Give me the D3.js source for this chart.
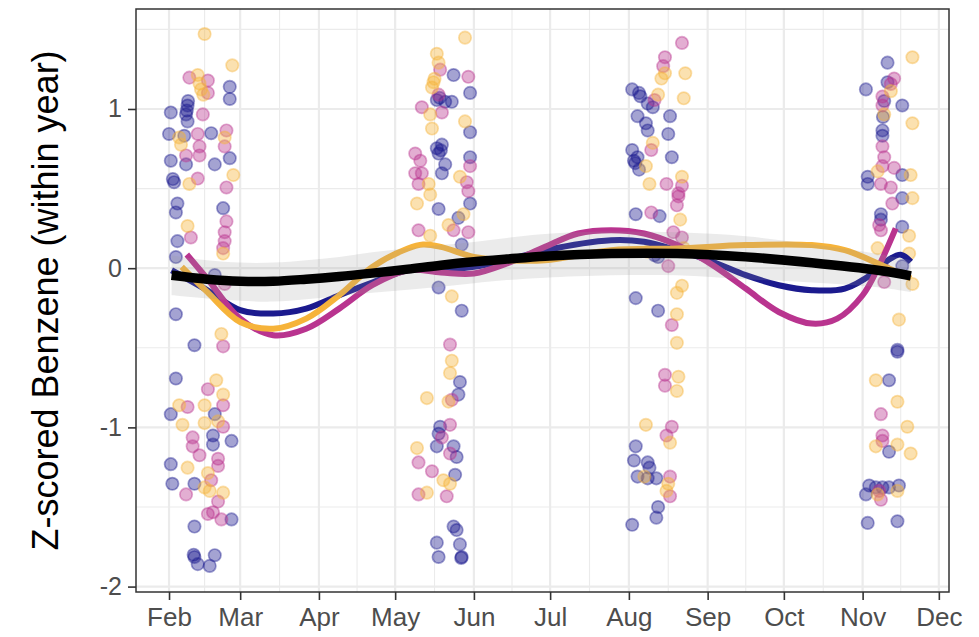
<!DOCTYPE html>
<html>
<head>
<meta charset="utf-8">
<script src="https://cdn.jsdelivr.net/npm/d3@7"></script>
<style>
  html, body { margin: 0; padding: 0; background: #ffffff; }
  svg { display: block; font-family: "Liberation Sans", Arial, sans-serif; }
</style>
</head>
<body>
<svg id="chart" width="979" height="637"></svg>
<script>
// ---------- DATA (day of year, z-scored value) ----------
const seriesNames = ["Year A", "Year B", "Year C"];
const seriesColors = ["#1b1a8e", "#b9348f", "#f6b33a"];

const pointsBlue = [
  [55.9,1.139],[55.9,1.063],[39.3,1.022],[39.5,1.05],[39.0,0.99],[32.7,0.978],[38.7,0.966],[39.3,0.922],[32.0,0.843],[38.0,0.832],[48.6,0.848],[32.7,0.675],[38.7,0.652],[50.0,0.652],[55.9,0.691],[34.0,0.540],[33.5,0.56],[35.3,0.406],[34.7,0.350],[53.3,0.377],[35.3,0.170],[34.7,0.070],[50.0,-0.043],[34.7,-0.289],[42.0,-0.484],[34.7,-0.693],[32.7,-0.917],[50.0,-0.917],[49.3,-1.051],[56.6,-1.085],[49.3,-1.108],[32.7,-1.231],[33.3,-1.354],[42.0,-1.354],[56.6,-1.578],[42.0,-1.623],[42.0,-1.814],[41.7,-1.80],[50.0,-1.803],[48.0,-1.870],[43.3,-1.859],
  [144.0,1.213],[150.5,1.101],[137.4,1.056],[138.5,1.07],[140.7,1.045],[143.3,1.045],[150.5,0.854],[137.4,0.753],[139.4,0.776],[138.1,0.720],[139,0.74],[140.7,0.652],[139.4,0.596],[150.5,0.697],[150.5,0.406],[138.1,0.372],[145.9,0.316],[147.2,0.148],[138.1,-0.121],[147.2,-0.267],[146.5,-0.715],[145.9,-0.794],[138.7,-0.996],[138.1,-1.040],[137.4,-1.119],[144.0,-1.119],[145.2,-1.186],[144.6,-1.298],[144.0,-1.623],[145.2,-1.645],[137.4,-1.724],[146.5,-1.735],[138.1,-1.814],[147.2,-1.814],[147.0,-1.82],
  [214.3,1.123],[217.0,1.101],[217.5,1.08],[220.4,1.034],[216.4,0.955],[222.4,1.011],[229.2,0.955],[219.7,0.910],[220.4,0.865],[228.5,0.843],[214.3,0.742],[216.4,0.697],[215.0,0.675],[215.5,0.66],[229.9,0.697],[217.0,0.619],[215.7,0.339],[225.1,0.327],[223.1,0.081],[224.5,0.070],[215.7,-0.188],[224.5,-0.267],[215.7,-1.119],[215.0,-1.208],[220.4,-1.220],[221.1,-1.253],[216.4,-1.309],[220.4,-1.320],[223.8,-1.320],[224.5,-1.500],[223.8,-1.567],[214.3,-1.612],
  [314.8,1.291],[314.8,1.168],[306.3,1.123],[320.6,1.022],[313.5,1.05],[313,0.95],[312.8,0.865],[312.8,0.832],[307.0,0.574],[307.0,0.529],[320.6,0.585],[320.6,0.440],[312.2,0.339],[312.2,0.305],[320.6,0.260],[320.6,0.013],[318.7,-0.513],[318.7,-0.525],[315.4,-0.704],[315.4,-1.153],[307.6,-1.365],[310.2,-1.377],[312.8,-1.377],[315.4,-1.377],[319.3,-1.365],[306.3,-1.421],[307.0,-1.60],[318.7,-1.59]
];

const pointsMagenta = [
  [40.0,1.197],[47.3,1.179],[47.3,1.101],[45.3,0.966],[43.3,0.843],[54.6,0.865],[53.9,0.765],[44.0,0.765],[38.7,0.708],[44.0,0.708],[43.3,0.563],[54.6,0.507],[54.6,0.294],[40.6,0.193],[53.9,0.226],[53.9,0.170],[53.3,0.126],[53.9,-0.099],[53.3,-0.491],[47.3,-0.760],[39.3,-0.872],[53.3,-0.861],[53.3,-0.996],[41.3,-1.063],[41.3,-1.119],[44.0,-1.175],[51.3,-1.197],[51.3,-1.242],[48.6,-1.332],[38.7,-1.421],[51.3,-1.466],[49.3,-1.533],[47.3,-1.544],[52.6,-1.578],
  [138.7,1.247],[149.8,1.202],[138.1,1.090],[131.5,1.011],[139.4,0.978],[128.9,0.720],[150.5,0.641],[130.9,0.675],[128.9,0.596],[131.5,0.596],[149.2,0.540],[130.2,0.529],[149.8,0.484],[130.2,0.238],[144.0,0.238],[149.8,0.226],[142.6,-0.480],[143.3,-0.827],[142.6,-0.984],[139.4,-1.063],[142.6,-1.164],[130.2,-1.220],[135.5,-1.276],[130.2,-1.421],[141.3,-1.433],
  [233.9,1.415],[227.2,1.325],[226.5,1.269],[223.1,1.056],[221.8,0.742],[227.8,0.529],[233.9,0.518],[232.5,0.451],[232.5,0.47],[231.9,0.395],[221.8,0.350],[230.5,0.226],[233.9,0.193],[228.5,0.013],[229.9,-0.357],[227.2,-0.670],[227.2,-0.738],[229.9,-0.996],[227.8,-1.051],[229.2,-1.309],[229.2,-1.433],
  [317.4,1.191],[316.1,1.157],[312.8,1.078],[312.8,1.022],[312.8,0.765],[313.5,0.697],[312.8,0.641],[317.4,0.630],[312.2,0.529],[316.1,0.507],[316.7,0.406],[311.5,0.271],[312.2,0.238],[313.5,-0.009],[313.5,-0.087],[312.2,-0.917],[312.8,-1.051],[312.8,-1.085],[311.5,-1.399],[312.2,-1.455]
];

const pointsOrange = [
  [46.0,1.471],[56.9,1.274],[43.3,1.213],[44,1.16],[44.6,1.123],[45.5,1.09],[36.0,0.821],[53.9,0.821],[36.7,0.776],[57.3,0.585],[40.0,0.529],[39.3,0.265],[53.3,0.092],[52.6,-0.413],[50.6,-0.704],[53.3,-0.794],[36.0,-0.861],[46.0,-0.861],[37.3,-0.984],[46.0,-0.973],[51.3,-0.962],[39.3,-1.253],[47.3,-1.287],[48.0,-1.399],[53.3,-1.410],[46.0,-1.377],
  [148.5,1.448],[137.4,1.347],[138.1,1.291],[136.1,1.168],[136.5,1.19],[135.5,1.135],[134.8,0.966],[148.5,0.922],[135.5,0.877],[146.5,0.574],[134.2,0.529],[134.8,0.462],[129.6,0.406],[147.9,0.339],[142.0,0.271],[134.8,0.204],[143.3,-0.177],[143.3,-0.581],[142.6,-0.659],[133.5,-0.816],[142.0,-0.838],[129.6,-1.130],[140.0,-1.332],[142.6,-1.354],[133.5,-1.410],
  [227.2,1.224],[235.2,1.224],[225.8,1.191],[224.5,1.090],[234.6,1.067],[222.4,0.787],[219.7,0.641],[233.9,0.574],[221.1,0.529],[233.2,0.305],[234.6,0.126],[220.4,0.103],[233.9,-0.110],[231.9,-0.155],[231.9,-0.289],[231.9,-0.469],[232.5,-0.682],[231.9,-0.771],[219.7,-0.984],[229.2,-1.096],[219.1,-1.309],[228.5,-1.354],[227.8,-1.399],
  [324.6,1.325],[316.1,1.112],[313.5,0.966],[324.6,0.910],[310.9,0.608],[323.9,0.585],[324.6,0.440],[323.3,0.204],[310.9,0.126],[323.3,0.092],[324.6,-0.099],[319.3,-0.323],[310.2,-0.704],[318.7,-0.839],[322.6,-0.996],[310.2,-1.119],[318.7,-1.108],[323.9,-1.164],[310.9,-1.421],[318.7,-1.399]
];

// smoothed trends
const smoothBlueDays    = [33,47,60,73,86,99,112,126,139,152,165,180,206,219,232,246,259,272,285,298,309,315,320,324];
const smoothBlueVals    = [-0.013,-0.138,-0.264,-0.285,-0.254,-0.17,-0.09,-0.013,-0.013,0.008,0.05,0.113,0.176,0.166,0.113,0.04,-0.044,-0.107,-0.138,-0.128,-0.033,0.05,0.085,0.04];
const smoothMagentaDays = [39,47,60,73,86,99,112,126,139,152,165,180,193,206,219,232,246,259,272,285,295,305,311,318];
const smoothMagentaVals = [0.086,-0.065,-0.317,-0.421,-0.38,-0.254,-0.107,-0.013,-0.027,-0.033,0.03,0.134,0.218,0.239,0.218,0.145,0.019,-0.128,-0.275,-0.348,-0.317,-0.17,0,0.25];
const smoothOrangeDays  = [37,47,60,73,86,99,112,126,132,139,152,165,180,206,232,259,285,298,311,324];
const smoothOrangeVals  = [0.008,-0.149,-0.338,-0.38,-0.317,-0.17,0.008,0.124,0.149,0.134,0.071,0.05,0.05,0.113,0.124,0.145,0.145,0.113,0.03,-0.065];

const overallDays  = [33,47,60,73,86,99,112,126,139,152,165,180,206,232,259,285,311,324];
const overallVals  = [-0.044,-0.069,-0.082,-0.082,-0.069,-0.052,-0.031,-0.006,0.019,0.040,0.057,0.075,0.092,0.092,0.071,0.034,-0.013,-0.048];
const overallUpper = [0.08,0.05,0.035,0.035,0.05,0.07,0.10,0.125,0.145,0.165,0.19,0.215,0.23,0.225,0.2,0.15,0.09,0.05];
const overallLower = [-0.17,-0.19,-0.205,-0.21,-0.195,-0.175,-0.155,-0.135,-0.117,-0.095,-0.075,-0.06,-0.045,-0.045,-0.07,-0.09,-0.12,-0.15];

const yTickValues = [-2, -1, 0, 1];
const yMinorValues = [-1.5, -0.5, 0.5, 1.5];
const xDomainDays = [19, 339];
const yDomain = [-2.034, 1.628];
const yTitle = "Z-scored Benzene (within year)";

// ---------- HELPERS ----------
const dayToDate = d => new Date(Date.UTC(2021, 0, 1) + (d - 1) * 864e5);

// ---------- LAYOUT ----------
const panel = { left: 136, right: 949, top: 9, bottom: 592 };
const svg = d3.select("#chart");
svg.append("rect").attr("width", 979).attr("height", 637).attr("fill", "#fff");

const x = d3.scaleUtc().domain(xDomainDays.map(dayToDate)).range([panel.left, panel.right]);
const y = d3.scaleLinear().domain(yDomain).range([panel.bottom, panel.top]);

const monthTicks = d3.utcMonth.range(dayToDate(xDomainDays[0]), dayToDate(xDomainDays[1]));
const xMinor = [];
for (let i = 0; i < monthTicks.length - 1; i++) {
  xMinor.push(new Date((monthTicks[i].getTime() + monthTicks[i + 1].getTime()) / 2));
}

// grid
const grid = svg.append("g");
grid.selectAll(".vminor").data(xMinor).join("line")
  .attr("x1", d => x(d)).attr("x2", d => x(d))
  .attr("y1", panel.top).attr("y2", panel.bottom)
  .attr("stroke", "#ebebeb").attr("stroke-width", 1.1);
grid.selectAll(".hminor").data(yMinorValues).join("line")
  .attr("x1", panel.left).attr("x2", panel.right)
  .attr("y1", d => y(d)).attr("y2", d => y(d))
  .attr("stroke", "#ebebeb").attr("stroke-width", 1.1);
grid.selectAll(".vmajor").data(monthTicks).join("line")
  .attr("x1", d => x(d)).attr("x2", d => x(d))
  .attr("y1", panel.top).attr("y2", panel.bottom)
  .attr("stroke", "#ebebeb").attr("stroke-width", 2.2);
grid.selectAll(".hmajor").data(yTickValues).join("line")
  .attr("x1", panel.left).attr("x2", panel.right)
  .attr("y1", d => y(d)).attr("y2", d => y(d))
  .attr("stroke", "#ebebeb").attr("stroke-width", 2.2);

// clip
svg.append("clipPath").attr("id", "clip").append("rect")
  .attr("x", panel.left).attr("y", panel.top)
  .attr("width", panel.right - panel.left).attr("height", panel.bottom - panel.top);
const plot = svg.append("g").attr("clip-path", "url(#clip)");

// points
const pointSets = [pointsBlue, pointsMagenta, pointsOrange];
pointSets.forEach((pts, i) => {
  plot.append("g").selectAll("circle").data(pts).join("circle")
    .attr("cx", d => x(dayToDate(d[0])))
    .attr("cy", d => y(d[1]))
    .attr("r", 6.2)
    .attr("fill", seriesColors[i]).attr("fill-opacity", 0.4)
    .attr("stroke", seriesColors[i]).attr("stroke-opacity", 0.42)
    .attr("stroke-width", 1.7);
});

// smooth lines per series
const line = d3.line()
  .x(d => x(dayToDate(d[0]))).y(d => y(d[1]))
  .curve(d3.curveCatmullRom.alpha(0.5));
const smoothSets = [
  d3.zip(smoothBlueDays, smoothBlueVals),
  d3.zip(smoothMagentaDays, smoothMagentaVals),
  d3.zip(smoothOrangeDays, smoothOrangeVals)
];
smoothSets.forEach((pts, i) => {
  plot.append("path").datum(pts)
    .attr("d", line)
    .attr("fill", "none")
    .attr("stroke", seriesColors[i])
    .attr("stroke-width", 6)
    .attr("stroke-linecap", "butt")
    .attr("stroke-linejoin", "round");
});

// overall ribbon + line
const ribbonData = overallDays.map((d, i) => [d, overallLower[i], overallUpper[i]]);
const area = d3.area()
  .x(d => x(dayToDate(d[0]))).y0(d => y(d[1])).y1(d => y(d[2]))
  .curve(d3.curveCatmullRom.alpha(0.5));
plot.append("path").datum(ribbonData)
  .attr("d", area)
  .attr("fill", "#999999").attr("fill-opacity", 0.2);
plot.append("path").datum(d3.zip(overallDays, overallVals))
  .attr("d", line)
  .attr("fill", "none").attr("stroke", "#000").attr("stroke-width", 9.5)
  .attr("stroke-linecap", "butt");

// panel border
svg.append("rect")
  .attr("x", panel.left).attr("y", panel.top)
  .attr("width", panel.right - panel.left).attr("height", panel.bottom - panel.top)
  .attr("fill", "none").attr("stroke", "#333").attr("stroke-width", 1.5);

// axes
const xAxis = d3.axisBottom(x)
  .tickValues(monthTicks)
  .tickFormat(d3.utcFormat("%b"))
  .tickSize(8).tickPadding(8);
const gx = svg.append("g").attr("transform", `translate(0,${panel.bottom})`).call(xAxis);
gx.select(".domain").remove();
gx.selectAll(".tick line").attr("stroke", "#333").attr("stroke-width", 1.6);
gx.selectAll(".tick text").attr("fill", "#4d4d4d").attr("font-size", 26)
  .attr("font-family", "Liberation Sans, Arial, sans-serif").attr("dy", "0.70em");

const yAxis = d3.axisLeft(y)
  .tickValues(yTickValues)
  .tickFormat(d => String(d))
  .tickSize(8).tickPadding(6);
const gy = svg.append("g").attr("transform", `translate(${panel.left},0)`).call(yAxis);
gy.select(".domain").remove();
gy.selectAll(".tick line").attr("stroke", "#333").attr("stroke-width", 1.6);
gy.selectAll(".tick text").attr("fill", "#4d4d4d").attr("font-size", 25)
  .attr("font-family", "Liberation Sans, Arial, sans-serif");

// y title
svg.append("text")
  .attr("transform", `translate(58,${(panel.top + panel.bottom) / 2}) rotate(-90)`)
  .attr("text-anchor", "middle")
  .attr("font-size", 36)
  .attr("fill", "#000")
  .text(yTitle);
</script>
</body>
</html>
